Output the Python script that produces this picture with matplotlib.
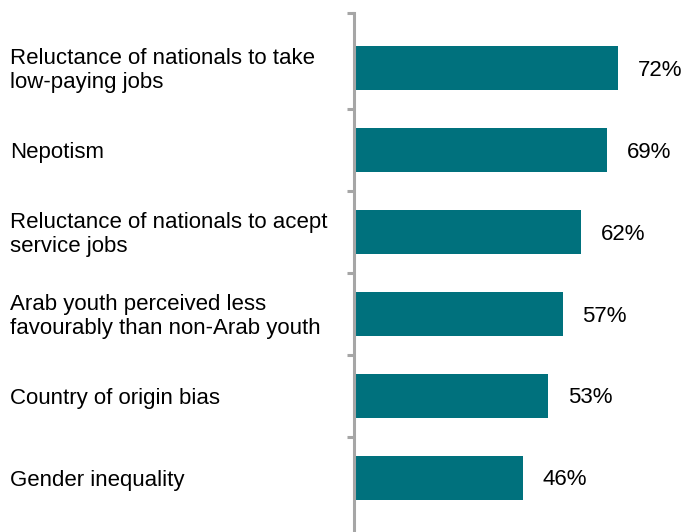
import matplotlib
matplotlib.use('Agg')
import matplotlib.pyplot as plt
import matplotlib.transforms as mtransforms

# barriers to employment, share of respondents (%)
labels = [
    'Reluctance of nationals to take\nlow-paying jobs',
    'Nepotism',
    'Reluctance of nationals to acept\nservice jobs',
    'Arab youth perceived less\nfavourably than non-Arab youth',
    'Country of origin bias',
    'Gender inequality',
]
values = [72, 69, 62, 57, 53, 46]

bar_color = '#00717D'
axis_color = '#A6A6A6'

plt.rcParams['font.family'] = ['Liberation Sans', 'DejaVu Sans']

W, H = 684, 532
fig = plt.figure(figsize=(W / 100, H / 100), dpi=100)
# axes: zero line at x=354px, top of axis at y=12.7px, runs off the bottom
ax = fig.add_axes([354 / W, 0, (W - 354) / W, (H - 12.7) / H])

pos = list(range(len(values)))
ax.barh(pos, values, height=0.537, color=bar_color, zorder=2)
ax.set_xlim(0, 90)
ax.set_ylim(5.66, -0.674)

for s in ['top', 'right', 'bottom']:
    ax.spines[s].set_visible(False)
ax.spines['left'].set_color(axis_color)
ax.spines['left'].set_linewidth(2.2)
ax.set_xticks([])
ax.set_yticks([-0.674, 0.5, 1.5, 2.5, 3.5, 4.5])
ax.set_yticklabels([])
ax.tick_params(axis='y', length=5, width=2.2, color=axis_color, direction='out')

# nudge text a couple of pixels below the bar centre
shift = mtransforms.ScaledTranslation(0, -2.5 / 100, fig.dpi_scale_trans)
trans = mtransforms.blended_transform_factory(fig.transFigure, ax.transData) + shift
for p, lab in zip(pos, labels):
    ax.text(10 / W, p, lab, transform=trans, ha='left', va='center',
            fontsize=16, linespacing=1.2, color='#000000')

for p, v in zip(pos, values):
    ax.annotate(f'{v}%', xy=(v, p), xytext=(14, -1.5), textcoords='offset points',
                ha='left', va='center', fontsize=16, color='#000000')

fig.savefig('out.png', dpi=100)
